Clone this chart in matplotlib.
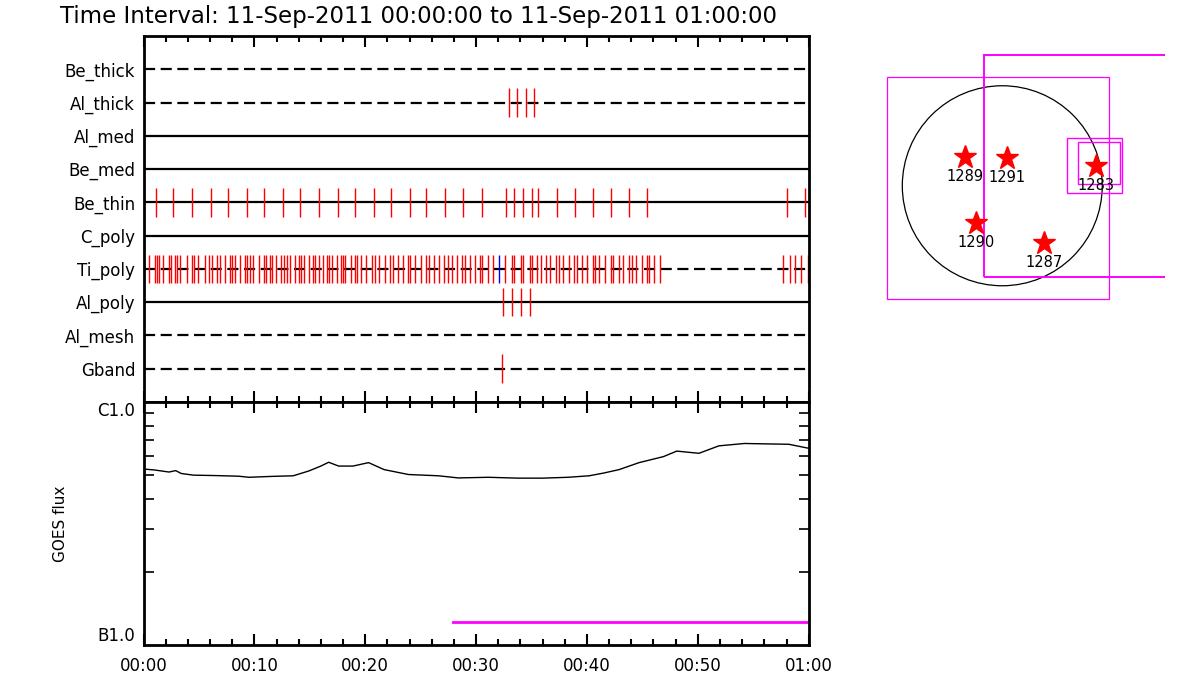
#!/usr/bin/env python
# RHESSI-style quicklook: filter/attenuator states, GOES flux and a small solar map

import matplotlib
matplotlib.use('Agg')
import matplotlib.pyplot as plt
from matplotlib.patches import Rectangle, Circle

# ---- data (time in minutes after 11-Sep-2011 00:00:00) ----
rowNames = ['Be_thick', 'Al_thick', 'Al_med', 'Be_med', 'Be_thin',
            'C_poly', 'Ti_poly', 'Al_poly', 'Al_mesh', 'Gband']
rowDashed = [True, True, False, False, False, False, True, False, True, True]

alThickTimes = [32.94, 33.72, 34.53, 35.25]
beThinTimes = [1.09, 2.70, 4.34, 6.06, 7.66, 9.30, 10.91, 12.55, 14.15, 15.79,
               17.51, 19.11, 20.76, 22.36, 24.00, 25.52, 27.17, 28.85, 30.49,
               32.72, 33.46, 34.24, 35.06, 35.61, 37.33, 38.93, 40.57, 42.18,
               43.82, 45.42, 58.05, 59.69]
tiPolyTimes = [0.50, 1.01, 1.19, 1.37, 1.73, 2.27, 2.45, 2.81, 2.99, 3.29,
               3.90, 4.37, 4.55, 4.92, 5.52, 5.93, 6.18, 6.60, 6.90, 7.32,
               7.80, 7.98, 8.23, 8.70, 9.13, 9.36, 9.61, 9.85, 10.39, 10.87,
               11.05, 11.41, 11.59, 11.95, 12.43, 12.67, 12.92, 13.21, 13.69,
               14.05, 14.18, 14.48, 14.95, 15.32, 15.44, 15.80, 16.22, 16.58,
               16.70, 17.00, 17.48, 17.84, 17.97, 18.20, 18.69, 19.05, 19.23,
               19.59, 20.07, 20.64, 20.88, 21.24, 21.78, 22.26, 22.50, 22.93,
               23.41, 23.83, 24.06, 24.49, 25.03, 25.51, 25.75, 26.17, 26.65,
               27.13, 27.44, 27.80, 28.28, 28.75, 29.00, 29.42, 29.90, 30.38,
               30.56, 31.05, 31.52, 32.61, 33.21, 33.39, 34.05, 34.23, 34.83,
               35.01, 35.49, 35.85, 36.28, 36.69, 37.23, 37.48, 37.84, 38.38,
               38.86, 39.10, 39.52, 40.00, 40.57, 40.75, 41.11, 41.65, 42.19,
               42.37, 42.86, 43.28, 43.82, 44.06, 44.42, 44.96, 45.44, 45.62,
               46.05, 46.59, 57.65, 58.31, 58.78, 59.33, 59.94]
tiPolyBlue = [32.09]
alPolyTimes = [32.44, 33.26, 34.08, 34.83]
gbandTimes = [32.36]

goesTime = [0.0, 1.0, 2.3, 2.9, 3.4, 4.5, 6.5, 8.6, 9.5, 11.5, 13.5, 14.9,
            16.0, 16.7, 17.6, 18.9, 20.3, 21.7, 23.9, 26.6, 28.4, 31.1, 33.8,
            36.0, 38.3, 40.2, 41.5, 42.9, 44.7, 46.9, 48.1, 50.1, 51.9, 54.2,
            56.5, 58.2, 60.0]
goesFlux = [5.30e-7, 5.25e-7, 5.15e-7, 5.22e-7, 5.08e-7, 5.00e-7, 4.98e-7,
            4.95e-7, 4.90e-7, 4.94e-7, 4.97e-7, 5.20e-7, 5.45e-7, 5.65e-7,
            5.45e-7, 5.45e-7, 5.63e-7, 5.27e-7, 5.03e-7, 4.97e-7, 4.87e-7,
            4.90e-7, 4.86e-7, 4.86e-7, 4.90e-7, 4.97e-7, 5.10e-7, 5.27e-7,
            5.63e-7, 5.96e-7, 6.28e-7, 6.15e-7, 6.60e-7, 6.75e-7, 6.72e-7,
            6.70e-7, 6.45e-7]
flareLineTime = [27.9, 60.0]
flareLineFlux = [1.245e-7, 1.245e-7]

timeTicks = [0, 10, 20, 30, 40, 50, 60]
timeLabels = ['00:00', '00:10', '00:20', '00:30', '00:40', '00:50', '01:00']

# map (arcsec from disk centre)
sunRadius = 950
arNumbers = ['1289', '1291', '1283', '1290', '1287']
arX = [-354, 45, 890, -253, 393]
arY = [271, 264, 188, -351, -546]
# boxes: (x0, y0, width, height)
imageBox = (-1093, -1078, 2110, 2109)
fovBox = (-177, -869, 2109, 2109)
flareBoxes = [(617, -71, 523, 522), (722, 14, 399, 399)]

title = 'Time Interval: 11-Sep-2011 00:00:00 to 11-Sep-2011 01:00:00'


def timeAxis(ax, labels):
    ax.set_xlim(0, 60)
    ax.set_xticks(timeTicks)
    ax.set_xticks(range(0, 61, 2), minor=True)
    ax.tick_params(axis='x', which='both', direction='in', top=True, bottom=True, width=1.5)
    ax.tick_params(axis='x', which='major', length=8)
    ax.tick_params(axis='x', which='minor', length=4)
    if labels:
        ax.set_xticklabels(timeLabels, fontsize=12)
        ax.tick_params(axis='x', which='major', pad=9)
    else:
        ax.set_xticklabels([])


def main():
    fig = plt.figure(figsize=(12, 7), dpi=100)
    fig.text(60 / 1200, 1 - 16 / 700, title, fontsize=16.5, va='center', ha='left')

    # ---- top panel: attenuator / filter rows ----
    ax1 = fig.add_axes([0.1196, 0.4257, 0.5543, 0.5229])
    ax1.set_ylim(11, 0)
    for i, name in enumerate(rowNames):
        y = i + 1
        ls = (0, (5, 2.5)) if rowDashed[i] else '-'
        ax1.plot([0, 60], [y, y], color='black', lw=1.6, linestyle=ls)
    tickRows = [(alThickTimes, 2, 'red'), (beThinTimes, 5, 'red'),
                (tiPolyTimes, 7, 'red'), (tiPolyBlue, 7, 'blue'),
                (alPolyTimes, 8, 'red'), (gbandTimes, 10, 'red')]
    for times, row, col in tickRows:
        ax1.vlines(times, row - 0.43, row + 0.43, color=col, lw=1.0)
    ax1.set_yticks(range(1, 11))
    ax1.set_yticklabels(rowNames, fontsize=12)
    ax1.tick_params(axis='y', length=0, pad=6)
    timeAxis(ax1, False)
    for sp in ax1.spines.values():
        sp.set_linewidth(2)

    # ---- GOES panel ----
    ax2 = fig.add_axes([0.1196, 0.0786, 0.5543, 0.3471])
    ax2.plot(goesTime, goesFlux, color='black', lw=1.0)
    ax2.plot(flareLineTime, flareLineFlux, color='magenta', lw=2)
    ax2.set_yscale('log')
    ax2.set_ylim(1e-7, 1e-6)
    ax2.set_yticks([1e-7, 1e-6])
    ax2.set_yticklabels(['B1.0', 'C1.0'], fontsize=12)
    ylabs = ax2.get_yticklabels()
    ylabs[0].set_va('bottom')
    ylabs[1].set_va('top')
    ax2.set_yticks([k * 1e-7 for k in range(2, 10)], minor=True)
    ax2.yaxis.set_minor_formatter(plt.NullFormatter())
    ax2.tick_params(axis='y', which='both', direction='in', left=True, right=True, width=1.2)
    ax2.tick_params(axis='y', which='major', length=0, pad=6)
    ax2.tick_params(axis='y', which='minor', length=7)
    ax2.set_ylabel('GOES flux', fontsize=11)
    ax2.yaxis.set_label_coords(-0.1135, 0.5)
    timeAxis(ax2, True)
    for sp in ax2.spines.values():
        sp.set_linewidth(2)

    # ---- solar map ----
    ax3 = fig.add_axes([0.725, 0.5429, 0.2458, 0.4])
    ax3.set_xlim(-1257, 1546)
    ax3.set_ylim(-1275, 1385)
    ax3.axis('off')
    ax3.add_patch(Circle((0, 0), sunRadius, fill=False, color='black', lw=0.9))
    ax3.add_patch(Rectangle(imageBox[:2], imageBox[2], imageBox[3], fill=False,
                            edgecolor='magenta', lw=0.9))
    ax3.add_patch(Rectangle(fovBox[:2], fovBox[2], fovBox[3], fill=False,
                            edgecolor='magenta', lw=1.4))
    for b in flareBoxes:
        ax3.add_patch(Rectangle(b[:2], b[2], b[3], fill=False, edgecolor='magenta', lw=1.0))
    ax3.plot(arX, arY, '*', color='red', ms=17, mec='red')
    for name, x, y in zip(arNumbers, arX, arY):
        ax3.annotate(name, (x, y), xytext=(0, -14), textcoords='offset points',
                     ha='center', va='center', fontsize=10.5)

    fig.savefig('out.png', dpi=100)


if __name__ == '__main__':
    main()
